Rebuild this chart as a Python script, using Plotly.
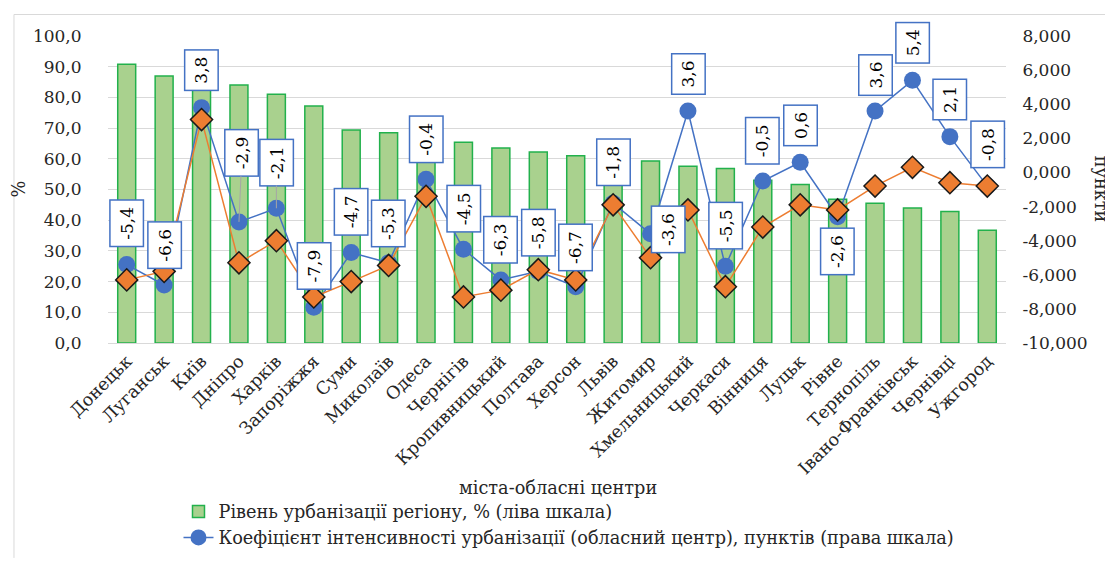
import plotly.graph_objects as go

cities = ["Донецьк", "Луганськ", "Київ", "Дніпро", "Харків", "Запоріжжя", "Суми",
          "Миколаїв", "Одеса", "Чернігів", "Кропивницький", "Полтава", "Херсон",
          "Львів", "Житомир", "Хмельницький", "Черкаси", "Вінниця", "Луцьк", "Рівне",
          "Тернопіль", "Івано-Франківськ", "Чернівці", "Ужгород"]

urban_level = [90.8, 87.0, 85.5, 84.0, 81.0, 77.2, 69.4, 68.5, 66.8, 65.4, 63.5, 62.2,
               61.0, 60.6, 59.3, 57.6, 56.8, 53.0, 51.6, 46.8, 45.5, 44.0, 42.8, 36.7]

intensity_center = [-5.4, -6.6, 3.8, -2.9, -2.1, -7.9, -4.7, -5.3, -0.4, -4.5, -6.3, -5.8,
                    -6.7, -1.8, -3.6, 3.6, -5.5, -0.5, 0.6, -2.6, 3.6, 5.4, 2.1, -0.8]

intensity_region = [-6.3, -5.8, 3.1, -5.3, -4.0, -7.3, -6.4, -5.45, -1.4, -7.3, -6.9, -5.7,
                    -6.3, -1.9, -5.0, -2.2, -6.7, -3.2, -1.9, -2.2, -0.8, 0.3, -0.6, -0.8]

left_ticks = [0, 10, 20, 30, 40, 50, 60, 70, 80, 90, 100]
right_ticks = [-10, -8, -6, -4, -2, 0, 2, 4, 6, 8]

# label placement (pixel offsets of the label box centre from the marker)
label_dx = [0, 0, 0, 3, 0, 0, 0, 0, 0, 0, 0, 0, 0, 0, 18, 0, 0, 0, 0, 0, 0, 0, 0, 0]
label_dy = [-41, -40, -37, -69, -46, -41, -41, -39, -40, -41, -40, -39,
            -39, -41, -4, -37, -41, -40, -37, 35, -36, -38, -37, -42]
leader = [False, False, False, True, True] + [False] * 19

FONT = "DejaVu Serif"
BLUE = "#4472C4"
ORANGE = "#ED7D31"
TXT = "#262626"
FS = 17
FS_TXT = 17.7

fig = go.Figure()
fig.add_trace(go.Bar(
    x=cities, y=urban_level, name="Рівень урбанізації регіону, % (ліва шкала)",
    marker=dict(color="#A9D18E", line=dict(color="#22B14C", width=1.5)),
    yaxis="y"))
fig.add_trace(go.Scatter(
    x=cities, y=intensity_center, yaxis="y2", mode="lines+markers",
    name="Коефіцієнт інтенсивності урбанізації (обласний центр), пунктів (права шкала)",
    line=dict(color=BLUE, width=1.5), marker=dict(symbol="circle", size=17, color=BLUE)))
fig.add_trace(go.Scatter(
    x=cities, y=intensity_region, yaxis="y2", mode="lines+markers", showlegend=False,
    line=dict(color=ORANGE, width=1.5),
    marker=dict(symbol="diamond", size=17, color=ORANGE, line=dict(color="#1a1a1a", width=1.5))))

annotations = []
for c, v, dx, dy, ld in zip(cities, intensity_center, label_dx, label_dy, leader):
    annotations.append(dict(
        x=c, y=v, xref="x", yref="y2", text=f"{v:.1f}".replace(".", ","),
        textangle=-90, showarrow=True, ax=dx, ay=dy, arrowhead=0, standoff=0,
        arrowwidth=1, arrowcolor="#a6a6a6" if ld else "rgba(0,0,0,0)",
        font=dict(family=FONT, size=17, color="black"),
        bgcolor="white", bordercolor=BLUE, borderwidth=1.5, borderpad=6))

annotations += [
    dict(text="%", x=-0.1135, y=0.5, xref="paper", yref="paper", showarrow=False,
         textangle=-90, font=dict(family=FONT, size=FS_TXT, color=TXT)),
    dict(text="пункти", x=1.120, y=0.5, xref="paper", yref="paper", showarrow=False,
         textangle=90, font=dict(family=FONT, size=FS_TXT, color=TXT)),
    dict(text="міста-обласні центри", x=0.501, y=-0.472, xref="paper", yref="paper",
         xanchor="center", yanchor="middle",
         showarrow=False, font=dict(family=FONT, size=FS_TXT, color=TXT)),
]

fig.update_layout(
    width=1113, height=561,
    margin=dict(l=100, r=115, t=28, b=219),
    plot_bgcolor="white", paper_bgcolor="white",
    font=dict(family=FONT, size=FS, color=TXT),
    bargap=0.52,
    showlegend=True,
    legend=dict(x=0.0785, y=-0.49, xanchor="left", yanchor="top", orientation="v",
                font=dict(family=FONT, size=FS_TXT, color=TXT),
                bgcolor="rgba(0,0,0,0)", tracegroupgap=0),
    xaxis=dict(range=[-0.5, len(cities) - 0.5], tickangle=-45, showline=True,
               linecolor="#d9d9d9", linewidth=1,
               ticks="", tickfont=dict(family=FONT, size=17.5, color=TXT)),
    yaxis=dict(range=[0, 100], tickvals=left_ticks,
               ticktext=[f"{t:.1f}".replace(".", ",") for t in left_ticks],
               showgrid=True, gridcolor="#d9d9d9", gridwidth=1, zeroline=False,
               ticks="outside", ticklen=22, tickcolor="rgba(0,0,0,0)",
               tickfont=dict(family=FONT, size=FS, color=TXT)),
    yaxis2=dict(range=[-10, 8], overlaying="y", side="right", tickvals=right_ticks,
                ticktext=[f"{t:.3f}".replace(".", ",") for t in right_ticks],
                showgrid=False, zeroline=False,
                ticks="outside", ticklen=12, tickcolor="rgba(0,0,0,0)",
                tickfont=dict(family=FONT, size=FS, color=TXT)),
    annotations=annotations,
    shapes=[
        dict(type="line", xref="paper", yref="paper", x0=-0.1047, x1=1.13, y0=1.070, y1=1.070,
             line=dict(color="#d9d9d9", width=1)),
        dict(type="line", xref="paper", yref="paper", x0=-0.1047, x1=-0.1047, y0=1.070, y1=-0.70,
             line=dict(color="#d9d9d9", width=1)),
    ],
)

fig.write_html("out.html")
